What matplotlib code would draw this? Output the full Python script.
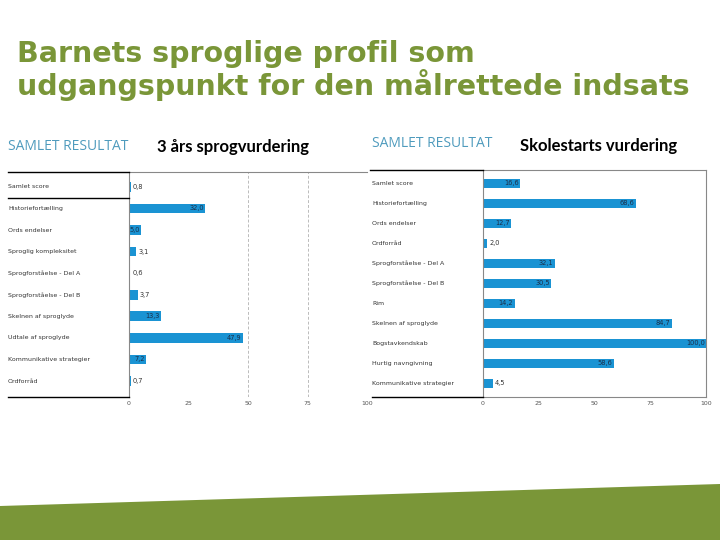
import matplotlib.pyplot as plt
from matplotlib.patches import Polygon

title_lines = ["Barnets sproglige profil som",
               "udgangspunkt for den målrettede indsats"]

left_title = "3 års sprogvurdering"
left_cats = ["Samlet score", "Historiefortælling", "Ords endelser",
             "Sproglig kompleksitet", "Sprogforståelse - Del A",
             "Sprogforståelse - Del B", "Skelnen af sproglyde",
             "Udtale af sproglyde", "Kommunikative strategier", "Ordforråd"]
left_vals = [0.8, 32.0, 5.0, 3.1, 0.6, 3.7, 13.3, 47.9, 7.2, 0.7]

right_title = "Skolestarts vurdering"
right_cats = ["Samlet score", "Historiefortælling", "Ords endelser",
              "Ordforråd", "Sprogforståelse - Del A",
              "Sprogforståelse - Del B", "Rim", "Skelnen af sproglyde",
              "Bogstavkendskab", "Hurtig navngivning",
              "Kommunikative strategier"]
right_vals = [16.6, 68.6, 12.7, 2.0, 32.1, 30.5, 14.2, 84.7, 100.0, 58.6, 4.5]

ticks = [0, 25, 50, 75, 100]
left_grid = [50, 75]

GREEN = "#7a9638"
BLUE = "#1a93d3"
W, H = 720, 540


def fx(px):
    return px / W


def fy(py):
    return 1 - py / H


def fmt(v):
    return ("%.1f" % v).replace(".", ",")


def draw_panel(fig, x0, x1, y0, y1, label_x, cats, vals, pad_top, pad_bot, boxed):
    ax = fig.add_axes([fx(x0), fy(y1), fx(x1) - fx(x0), fy(y0) - fy(y1)])
    pos = list(range(len(cats)))
    ax.barh(pos, vals, height=0.45, color=BLUE, zorder=2)
    ax.set_xlim(0, 100)
    ax.set_ylim(len(cats) - 1 + pad_bot, -pad_top)
    ax.set_yticks([])
    ax.set_xticks(ticks)
    ax.set_xticklabels([str(t) for t in ticks], fontsize=4.5, color="#555555")
    ax.tick_params(axis="x", length=0, pad=3)
    for s in ax.spines.values():
        s.set_color("#888888")
        s.set_linewidth(0.8)
    if not boxed:
        ax.spines["right"].set_visible(False)
        ax.spines["bottom"].set_visible(False)
        for g in left_grid:
            ax.axvline(g, color="#bbbbbb", lw=0.7, ls=(0, (3, 2)), zorder=1)
    for p, v in zip(pos, vals):
        if v > 6:
            ax.text(v - 0.6, p, fmt(v), ha="right", va="center", fontsize=4.8,
                    color="#1b2f4a", zorder=3)
        elif v >= 5:
            ax.text(0.2, p, fmt(v), ha="left", va="center", fontsize=4.8,
                    color="#1b2f4a", zorder=3)
        else:
            ax.text(v + 0.8, p, fmt(v), ha="left", va="center", fontsize=4.8,
                    color="#333333", zorder=3)
    # category labels on the left
    for p, c in zip(pos, cats):
        y = ax.transData.transform((0, p))[1]
        fig.text(fx(label_x), y / fig.dpi / fig.get_figheight(), c,
                 ha="left", va="center", fontsize=4.5, color="#333333")
    return ax


fig = plt.figure(figsize=(7.2, 5.4), dpi=100)
fig.patch.set_facecolor("white")

fig.text(fx(17), fy(62), title_lines[0], fontsize=20.5, fontweight="bold",
         color=GREEN, family="DejaVu Sans", va="baseline")
fig.text(fx(17), fy(95), title_lines[1], fontsize=20.5, fontweight="bold",
         color=GREEN, family="DejaVu Sans", va="baseline")

# left chart
draw_panel(fig, 129, 367, 172, 397, 8, left_cats, left_vals, 0.69, 0.74, False)
fig.add_artist(plt.Line2D([fx(8), fx(129)], [fy(172), fy(172)], color="black", lw=1))
fig.add_artist(plt.Line2D([fx(8), fx(129)], [fy(198), fy(198)], color="black", lw=1))
fig.add_artist(plt.Line2D([fx(8), fx(129)], [fy(397), fy(397)], color="black", lw=1))
fig.text(fx(8), fy(146), "SAMLET RESULTAT", fontsize=10, color="#4f9bbd",
         family="Open Sans", va="center")
fig.text(fx(233), fy(147), left_title, fontsize=12, fontweight="bold",
         family="Lato", ha="center", va="center", color="black")

# right chart
draw_panel(fig, 483, 706, 170, 397, 372, right_cats, right_vals, 0.65, 0.7, True)
fig.add_artist(plt.Line2D([fx(370), fx(483)], [fy(170), fy(170)], color="black", lw=1))
fig.add_artist(plt.Line2D([fx(372), fx(483)], [fy(397), fy(397)], color="black", lw=1))
fig.text(fx(372), fy(144), "SAMLET RESULTAT", fontsize=10, color="#4f9bbd",
         family="Open Sans", va="center")
fig.text(fx(599), fy(146), right_title, fontsize=12, fontweight="bold",
         family="Lato", ha="center", va="center", color="black")

# green band at the bottom
band = Polygon([(0, fy(506)), (1, fy(484)), (1, 0), (0, 0)], closed=True,
               transform=fig.transFigure, color=GREEN, lw=0)
fig.add_artist(band)

fig.savefig("out.png", dpi=100)
